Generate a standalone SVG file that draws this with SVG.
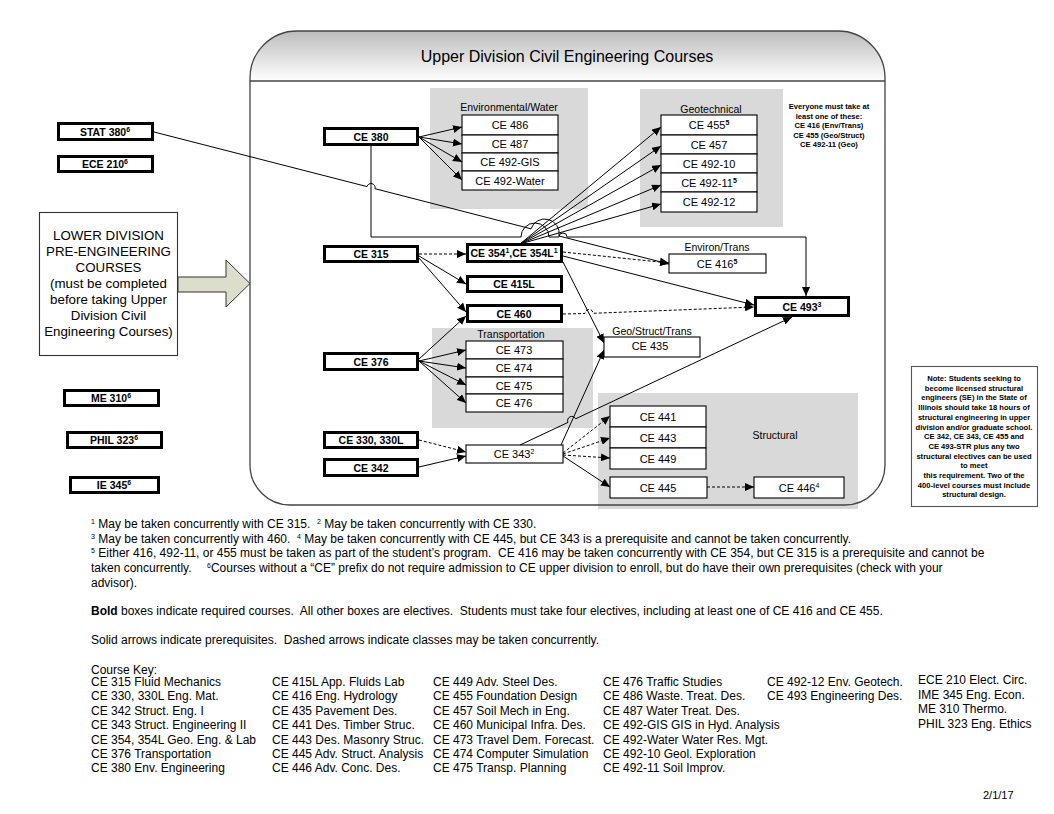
<svg xmlns="http://www.w3.org/2000/svg" width="1054" height="814" viewBox="0 0 1054 814">
<style>
text{font-family:"Liberation Sans",Arial,sans-serif;fill:#000}
.b{font-weight:bold;font-size:10.5px;text-anchor:middle}
.r{font-size:11px;text-anchor:middle}
.lbl{font-size:10.5px;text-anchor:middle}
.bx{fill:#fff;stroke:#000;stroke-width:3}
.el{fill:#fff;stroke:#000;stroke-width:1.1}
.grp{fill:#d9d9d9}
.c{fill:none;stroke:#000;stroke-width:1;marker-end:url(#ah)}
.d{stroke-dasharray:3 2}
.ev{font-weight:bold;font-size:7.6px;text-anchor:middle}
.fn{font-size:12px}
.ck{font-size:12px}
.sup{font-size:7px}
</style>
<defs>
<marker id="ah" markerWidth="9" markerHeight="8" refX="9" refY="4" orient="auto" markerUnits="userSpaceOnUse"><path d="M0,0 L9,4 L0,8 z" fill="#000"/></marker>
<linearGradient id="hg" x1="0" y1="0" x2="0" y2="1"><stop offset="0" stop-color="#bcbcbc"/><stop offset="1" stop-color="#ffffff"/></linearGradient>
</defs>

<g id="frame">
<path d="M250,78 A47,47 0 0 1 297,31 L838,31 A47,47 0 0 1 885,78 L885,465 A40,40 0 0 1 845,505 L290,505 A40,40 0 0 1 250,465 Z" fill="#fff"/>
<path d="M250,81 L250,78 A47,47 0 0 1 297,31 L838,31 A47,47 0 0 1 885,78 L885,81 Z" fill="url(#hg)"/>
<line x1="250" y1="81" x2="885" y2="81" stroke="#444" stroke-width="1.3"/>
<text x="567" y="62" style="font-size:16px;text-anchor:middle">Upper Division Civil Engineering Courses</text>
</g>

<g id="group-env"><rect class="grp" x="430" y="88" width="158" height="121"/><text class="lbl" x="509" y="111">Environmental/Water</text></g>
<g id="group-geo"><rect class="grp" x="640" y="89" width="143" height="138"/><text class="lbl" x="711" y="113">Geotechnical</text></g>
<g id="group-trans"><rect class="grp" x="432" y="328" width="161" height="100"/><text class="lbl" x="511" y="338">Transportation</text></g>
<g id="group-struct"><rect class="grp" x="598" y="393" width="260" height="116"/><text class="lbl" x="775" y="439">Structural</text></g>

<path d="M250,78 A47,47 0 0 1 297,31 L838,31 A47,47 0 0 1 885,78 L885,465 A40,40 0 0 1 845,505 L290,505 A40,40 0 0 1 250,465 Z" fill="none" stroke="#444" stroke-width="1.3"/>

<g id="note-everyone">
<text class="ev" x="829" y="109">Everyone must take at</text>
<text class="ev" x="829" y="118.5">least one of these:</text>
<text class="ev" x="829" y="128">CE 416 (Env/Trans)</text>
<text class="ev" x="829" y="137.5">CE 455 (Geo/Struct)</text>
<text class="ev" x="829" y="147">CE 492-11 (Geo)</text>
</g>

<g id="connectors">
<path class="c" d="M154,132 L367,186.6 A4,4 0 0 1 375,188.7 L531,228.8 A14.5,14.5 0 0 1 559,236 L669,264"/>
<path class="c" d="M371,146 L371,237 L521,237 A14,14 0 0 1 549,237 L559,237 A4,4 0 0 1 567,237 L806,237 L806,296"/>
<path class="c" d="M419,137 L462,127"/>
<path class="c" d="M419,137 L462,144"/>
<path class="c" d="M419,137 L462,162"/>
<path class="c" d="M419,137 L462,180"/>
<path class="c" d="M520,244 L661,127"/>
<path class="c" d="M520,244 L661,146"/>
<path class="c" d="M520,244 L661,165"/>
<path class="c" d="M520,244 L661,185"/>
<path class="c" d="M520,244 L661,204"/>
<path class="c d" d="M419,254 L466,254"/>
<path class="c" d="M419,256 L466,284"/>
<path class="c" d="M419,258 L466,312"/>
<path class="c" d="M419,359 L466,316"/>
<path class="c" d="M419,361 L466,350"/>
<path class="c" d="M419,361 L466,368"/>
<path class="c" d="M419,361 L466,385"/>
<path class="c" d="M419,361 L466,403"/>
<path class="c d" d="M563,252 L669,263"/>
<path class="c" d="M563,256 L754,305"/>
<path class="c d" d="M563,314 L585,313.5 A4,4 0 0 1 593,313.3 L754,307"/>
<path class="c" d="M563,262 L604,343"/>
<path class="c" d="M561,445 L604,350"/>
<path class="c" d="M520,445 L568,422.4 A4.2,4.2 0 0 1 575.6,418.8 L792,317"/>
<path class="c d" d="M419,440 L466,452"/>
<path class="c" d="M419,467 L466,456"/>
<path class="c d" d="M563,453 L610,416"/>
<path class="c d" d="M563,454 L610,438"/>
<path class="c d" d="M563,455 L610,458"/>
<path class="c" d="M563,456 L610,487"/>
<path class="c d" d="M707,487 L754,487"/>
</g>

<g id="stat380"><rect class="bx" x="58.5" y="123.5" width="94" height="16"/><text class="b" x="105" y="135.5">STAT 380<tspan class="sup" dy="-4">6</tspan></text></g>
<g id="ece210"><rect class="bx" x="58.5" y="156.5" width="94" height="15"/><text class="b" x="105" y="168">ECE 210<tspan class="sup" dy="-4">6</tspan></text></g>
<g id="me310"><rect class="bx" x="64.5" y="390.5" width="94" height="15"/><text class="b" x="111" y="402">ME 310<tspan class="sup" dy="-4">6</tspan></text></g>
<g id="phil323"><rect class="bx" x="67.5" y="432.5" width="94" height="15"/><text class="b" x="114" y="444">PHIL 323<tspan class="sup" dy="-4">6</tspan></text></g>
<g id="ie345"><rect class="bx" x="70.5" y="477.5" width="88" height="15"/><text class="b" x="114" y="489">IE 345<tspan class="sup" dy="-4">6</tspan></text></g>

<g id="lower-division">
<rect x="39.5" y="212.5" width="138" height="143" fill="#fff" stroke="#333" stroke-width="1.1"/>
<g style="font-size:13.3px;text-anchor:middle">
<text x="108.5" y="240">LOWER DIVISION</text>
<text x="108.5" y="256">PRE-ENGINEERING</text>
<text x="108.5" y="272">COURSES</text>
<text x="108.5" y="288">(must be completed</text>
<text x="108.5" y="304">before taking Upper</text>
<text x="108.5" y="320">Division Civil</text>
<text x="108.5" y="336">Engineering Courses)</text>
</g>
<path d="M178,277 L226,277 L226,260 L250,283.5 L226,307 L226,292 L178,292 Z" fill="#dcdecb" stroke="#333" stroke-width="1"/>
</g>

<g id="ce380"><rect class="bx" x="324.5" y="128.5" width="93" height="16"/><text class="b" x="371" y="140.5">CE 380</text></g>
<g id="ce315"><rect class="bx" x="324.5" y="246.5" width="93" height="15"/><text class="b" x="371" y="258">CE 315</text></g>
<g id="ce376"><rect class="bx" x="324.5" y="353.5" width="93" height="16"/><text class="b" x="371" y="365.5">CE 376</text></g>
<g id="ce330"><rect class="bx" x="324.5" y="432.5" width="93" height="15"/><text class="b" x="371" y="444">CE 330, 330L</text></g>
<g id="ce342"><rect class="bx" x="324.5" y="459.5" width="93" height="16"/><text class="b" x="371" y="471.5">CE 342</text></g>
<g id="ce354"><rect class="bx" x="467.5" y="244.5" width="94" height="17"/><text class="b" x="514" y="257">CE 354<tspan class="sup" dy="-4">1</tspan><tspan dy="4">,CE 354L</tspan><tspan class="sup" dy="-4">1</tspan></text></g>
<g id="ce415l"><rect class="bx" x="467.5" y="276.5" width="94" height="15"/><text class="b" x="514" y="288">CE 415L</text></g>
<g id="ce460"><rect class="bx" x="467.5" y="305.5" width="94" height="16"/><text class="b" x="514" y="317.5">CE 460</text></g>
<g id="ce493"><rect class="bx" x="755.5" y="297.5" width="93" height="18"/><text class="b" x="802" y="310.5">CE 493<tspan class="sup" dy="-4">3</tspan></text></g>

<g id="ce486"><rect class="el" x="462" y="115" width="96" height="20"/><text class="r" x="510" y="129">CE 486</text></g>
<g id="ce487"><rect class="el" x="462" y="135" width="96" height="18"/><text class="r" x="510" y="148">CE 487</text></g>
<g id="ce492gis"><rect class="el" x="462" y="153" width="96" height="18"/><text class="r" x="510" y="166">CE 492-GIS</text></g>
<g id="ce492water"><rect class="el" x="462" y="171" width="96" height="19"/><text class="r" x="510" y="184.5">CE 492-Water</text></g>

<g id="ce455"><rect class="el" x="661" y="115" width="96" height="20"/><text class="r" x="709" y="129">CE 455<tspan class="sup" dy="-4" font-weight="bold">5</tspan></text></g>
<g id="ce457"><rect class="el" x="661" y="135" width="96" height="19"/><text class="r" x="709" y="148.5">CE 457</text></g>
<g id="ce492-10"><rect class="el" x="661" y="154" width="96" height="19"/><text class="r" x="709" y="167.5">CE 492-10</text></g>
<g id="ce492-11"><rect class="el" x="661" y="173" width="96" height="19"/><text class="r" x="709" y="186.5">CE 492-11<tspan class="sup" dy="-4" font-weight="bold">5</tspan></text></g>
<g id="ce492-12"><rect class="el" x="661" y="192" width="96" height="20"/><text class="r" x="709" y="206">CE 492-12</text></g>

<g id="ce416"><text class="lbl" x="717" y="251">Environ/Trans</text><rect class="el" x="669" y="254" width="97" height="19"/><text class="r" x="717" y="267.5">CE 416<tspan class="sup" dy="-4" font-weight="bold">5</tspan></text></g>
<g id="ce435"><text class="lbl" x="652" y="335">Geo/Struct/Trans</text><rect class="el" x="604" y="337" width="96" height="20"/><text class="r" x="650" y="350">CE 435</text></g>

<g id="ce473"><rect class="el" x="466" y="341" width="97" height="18"/><text class="r" x="514" y="354">CE 473</text></g>
<g id="ce474"><rect class="el" x="466" y="359" width="97" height="18"/><text class="r" x="514" y="372">CE 474</text></g>
<g id="ce475"><rect class="el" x="466" y="377" width="97" height="17"/><text class="r" x="514" y="389.5">CE 475</text></g>
<g id="ce476"><rect class="el" x="466" y="394" width="97" height="18"/><text class="r" x="514" y="407">CE 476</text></g>

<g id="ce343"><rect class="el" x="466" y="445" width="97" height="18"/><text class="r" x="514" y="458">CE 343<tspan class="sup" dy="-4">2</tspan></text></g>

<g id="ce441"><rect class="el" x="610" y="406" width="96" height="21"/><text class="r" x="658" y="420.5">CE 441</text></g>
<g id="ce443"><rect class="el" x="610" y="427" width="96" height="21"/><text class="r" x="658" y="441.5">CE 443</text></g>
<g id="ce449"><rect class="el" x="610" y="448" width="96" height="21"/><text class="r" x="658" y="462.5">CE 449</text></g>
<g id="ce445"><rect class="el" x="610" y="477" width="97" height="21"/><text class="r" x="658" y="491.5">CE 445</text></g>
<g id="ce446"><rect class="el" x="754" y="477" width="90" height="21"/><text class="r" x="799" y="491.5">CE 446<tspan class="sup" dy="-4">4</tspan></text></g>

<g id="note-se">
<rect x="911.5" y="366.5" width="126" height="140" fill="#fff" stroke="#555" stroke-width="1.1"/>
<text class="ev" x="974" y="381">Note: Students seeking to</text>
<text class="ev" x="974" y="390.7">become licensed structural</text>
<text class="ev" x="974" y="400.4">engineers (SE) in the State of</text>
<text class="ev" x="974" y="410.1">Illinois should take 18 hours of</text>
<text class="ev" x="974" y="419.8">structural engineering in upper</text>
<text class="ev" x="974" y="429.5">division and/or graduate school.</text>
<text class="ev" x="974" y="439.2">CE 342, CE 343, CE 455 and</text>
<text class="ev" x="974" y="448.9">CE 493-STR plus any two</text>
<text class="ev" x="974" y="458.6">structural electives can be used</text>
<text class="ev" x="974" y="468.3">to meet</text>
<text class="ev" x="974" y="478">this requirement. Two of the</text>
<text class="ev" x="974" y="487.7">400-level courses must include</text>
<text class="ev" x="974" y="497.4">structural design.</text>
</g>

<g id="footnotes">
<text class="fn" x="91" y="528" xml:space="preserve"><tspan class="sup" dy="-4">1</tspan><tspan dy="4"> May be taken concurrently with CE 315.  </tspan><tspan class="sup" dy="-4">2</tspan><tspan dy="4"> May be taken concurrently with CE 330.</tspan></text>
<text class="fn" x="91" y="543" xml:space="preserve"><tspan class="sup" dy="-4">3</tspan><tspan dy="4"> May be taken concurrently with 460.  </tspan><tspan class="sup" dy="-4">4</tspan><tspan dy="4"> May be taken concurrently with CE 445, but CE 343 is a prerequisite and cannot be taken concurrently.</tspan></text>
<text class="fn" x="91" y="557" xml:space="preserve"><tspan class="sup" dy="-4">5</tspan><tspan dy="4"> Either 416, 492-11, or 455 must be taken as part of the student’s program.  CE 416 may be taken concurrently with CE 354, but CE 315 is a prerequisite and cannot be</tspan></text>
<text class="fn" x="91" y="572">taken concurrently.<tspan class="sup" x="207" dy="-4">6</tspan><tspan dy="4">Courses without a “CE” prefix do not require admission to CE upper division to enroll, but do have their own prerequisites (check with your</tspan></text>
<text class="fn" x="91" y="587">advisor).</text>
<text class="fn" x="91" y="615" xml:space="preserve"><tspan font-weight="bold">Bold</tspan> boxes indicate required courses.  All other boxes are electives.  Students must take four electives, including at least one of CE 416 and CE 455.</text>
<text class="fn" x="91" y="644" xml:space="preserve">Solid arrows indicate prerequisites.  Dashed arrows indicate classes may be taken concurrently.</text>
</g>

<g id="course-key">
<text class="ck" x="91" y="674">Course Key:</text>
<text class="ck" x="91" y="686">CE 315 Fluid Mechanics</text>
<text class="ck" x="91" y="700">CE 330, 330L Eng. Mat.</text>
<text class="ck" x="91" y="715">CE 342 Struct. Eng. I</text>
<text class="ck" x="91" y="729">CE 343 Struct. Engineering II</text>
<text class="ck" x="91" y="744">CE 354, 354L Geo. Eng. &amp; Lab</text>
<text class="ck" x="91" y="758">CE 376 Transportation</text>
<text class="ck" x="91" y="772">CE 380 Env. Engineering</text>
<text class="ck" x="272" y="686">CE 415L App. Fluids Lab</text>
<text class="ck" x="272" y="700">CE 416 Eng. Hydrology</text>
<text class="ck" x="272" y="715">CE 435 Pavement Des.</text>
<text class="ck" x="272" y="729">CE 441 Des. Timber Struc.</text>
<text class="ck" x="272" y="744">CE 443 Des. Masonry Struc.</text>
<text class="ck" x="272" y="758">CE 445 Adv. Struct. Analysis</text>
<text class="ck" x="272" y="772">CE 446 Adv. Conc. Des.</text>
<text class="ck" x="433" y="686">CE 449 Adv. Steel Des.</text>
<text class="ck" x="433" y="700">CE 455 Foundation Design</text>
<text class="ck" x="433" y="715">CE 457 Soil Mech in Eng.</text>
<text class="ck" x="433" y="729">CE 460 Municipal Infra. Des.</text>
<text class="ck" x="433" y="744">CE 473 Travel Dem. Forecast.</text>
<text class="ck" x="433" y="758">CE 474 Computer Simulation</text>
<text class="ck" x="433" y="772">CE 475 Transp. Planning</text>
<text class="ck" x="603" y="686">CE 476 Traffic Studies</text>
<text class="ck" x="603" y="700">CE 486 Waste. Treat. Des.</text>
<text class="ck" x="603" y="715">CE 487 Water Treat. Des.</text>
<text class="ck" x="603" y="729">CE 492-GIS GIS in Hyd. Analysis</text>
<text class="ck" x="603" y="744">CE 492-Water Water Res. Mgt.</text>
<text class="ck" x="603" y="758">CE 492-10 Geol. Exploration</text>
<text class="ck" x="603" y="772">CE 492-11 Soil Improv.</text>
<text class="ck" x="767" y="686">CE 492-12 Env. Geotech.</text>
<text class="ck" x="767" y="700">CE 493 Engineering Des.</text>
<text class="ck" x="918" y="684">ECE 210 Elect. Circ.</text>
<text class="ck" x="918" y="699">IME 345 Eng. Econ.</text>
<text class="ck" x="918" y="713">ME 310 Thermo.</text>
<text class="ck" x="918" y="728">PHIL 323 Eng. Ethics</text>
<text x="983" y="799" style="font-size:11px">2/1/17</text>
</g>
</svg>
